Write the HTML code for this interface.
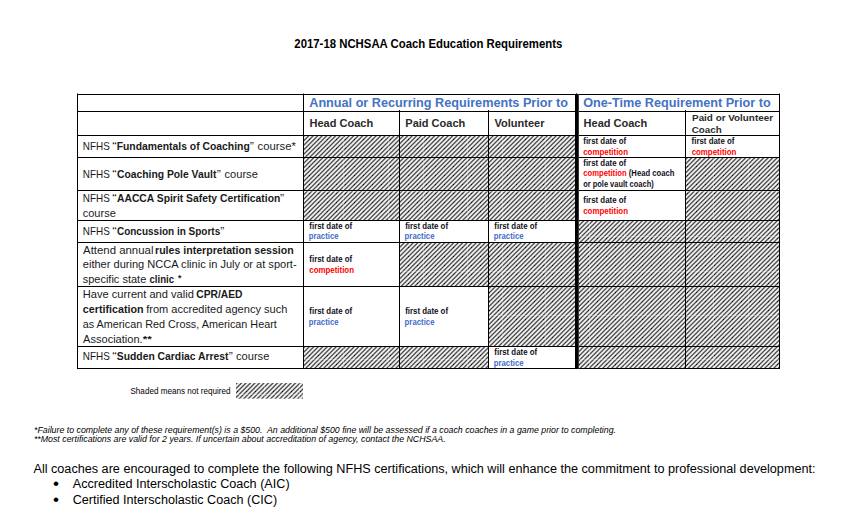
<!DOCTYPE html>
<html lang="en"><head><meta charset="utf-8"><title>2017-18 NCHSAA Coach Education Requirements</title>
<style>
html,body{margin:0;padding:0;background:#fff}
body{width:856px;height:514px;position:relative;overflow:hidden;font-family:"Liberation Sans",sans-serif;}
.l{position:absolute;background:#000}
svg.hs{position:absolute;left:0;top:0}
.t{position:absolute;left:0;white-space:pre;line-height:1;transform-origin:0 0;height:0}
b{font-weight:bold}
i{font-style:italic}
</style></head><body>
<svg class="hs" width="856" height="514" viewBox="0 0 856 514"><defs><pattern id="hp" width="9" height="9" patternUnits="userSpaceOnUse" shape-rendering="crispEdges"><path fill="#0a0a0a" d="M3,4h1v1h-1z"/><path fill="#4c4c4c" d="M7,0h1v1h-1zM6,1h1v1h-1zM5,2h1v1h-1zM4,3h1v1h-1zM2,5h1v1h-1zM1,6h1v1h-1zM0,7h1v1h-1zM8,8h1v1h-1z"/><path fill="#666666" d="M2,0h1v1h-1zM3,0h1v1h-1zM1,1h1v1h-1zM2,1h1v1h-1zM0,2h1v1h-1zM1,2h1v1h-1zM0,3h1v1h-1zM8,3h1v1h-1zM7,4h1v1h-1zM8,4h1v1h-1zM6,5h1v1h-1zM7,5h1v1h-1zM5,6h1v1h-1zM6,6h1v1h-1zM4,7h1v1h-1zM5,7h1v1h-1zM3,8h1v1h-1zM4,8h1v1h-1z"/><path fill="#a6a6a6" d="M6,0h1v1h-1zM8,0h1v1h-1zM5,1h1v1h-1zM7,1h1v1h-1zM4,2h1v1h-1zM6,2h1v1h-1zM3,3h1v1h-1zM5,3h1v1h-1zM2,4h1v1h-1zM4,4h1v1h-1zM1,5h1v1h-1zM3,5h1v1h-1zM0,6h1v1h-1zM2,6h1v1h-1zM1,7h1v1h-1zM8,7h1v1h-1zM0,8h1v1h-1zM7,8h1v1h-1z"/><path fill="#dedede" d="M1,0h1v1h-1zM4,0h1v1h-1zM0,1h1v1h-1zM3,1h1v1h-1zM2,2h1v1h-1zM8,2h1v1h-1zM1,3h1v1h-1zM7,3h1v1h-1zM0,4h1v1h-1zM6,4h1v1h-1zM5,5h1v1h-1zM8,5h1v1h-1zM4,6h1v1h-1zM7,6h1v1h-1zM3,7h1v1h-1zM6,7h1v1h-1zM2,8h1v1h-1zM5,8h1v1h-1z"/><path fill="#f2f2f2" d="M0,0h1v1h-1zM5,0h1v1h-1zM4,1h1v1h-1zM8,1h1v1h-1zM3,2h1v1h-1zM7,2h1v1h-1zM2,3h1v1h-1zM6,3h1v1h-1zM1,4h1v1h-1zM5,4h1v1h-1zM0,5h1v1h-1zM4,5h1v1h-1zM3,6h1v1h-1zM8,6h1v1h-1zM2,7h1v1h-1zM7,7h1v1h-1zM1,8h1v1h-1zM6,8h1v1h-1z"/></pattern></defs>
<rect x="304" y="136" width="95" height="21" fill="url(#hp)" shape-rendering="crispEdges"/>
<rect x="400" y="136" width="88" height="21" fill="url(#hp)" shape-rendering="crispEdges"/>
<rect x="489" y="136" width="86" height="21" fill="url(#hp)" shape-rendering="crispEdges"/>
<rect x="304" y="158" width="95" height="32" fill="url(#hp)" shape-rendering="crispEdges"/>
<rect x="400" y="158" width="88" height="32" fill="url(#hp)" shape-rendering="crispEdges"/>
<rect x="489" y="158" width="86" height="32" fill="url(#hp)" shape-rendering="crispEdges"/>
<rect x="686" y="158" width="93" height="32" fill="url(#hp)" shape-rendering="crispEdges"/>
<rect x="304" y="191" width="95" height="29" fill="url(#hp)" shape-rendering="crispEdges"/>
<rect x="400" y="191" width="88" height="29" fill="url(#hp)" shape-rendering="crispEdges"/>
<rect x="489" y="191" width="86" height="29" fill="url(#hp)" shape-rendering="crispEdges"/>
<rect x="686" y="191" width="93" height="29" fill="url(#hp)" shape-rendering="crispEdges"/>
<rect x="579" y="221" width="106" height="21" fill="url(#hp)" shape-rendering="crispEdges"/>
<rect x="686" y="221" width="93" height="21" fill="url(#hp)" shape-rendering="crispEdges"/>
<rect x="400" y="243" width="88" height="43" fill="url(#hp)" shape-rendering="crispEdges"/>
<rect x="489" y="243" width="86" height="43" fill="url(#hp)" shape-rendering="crispEdges"/>
<rect x="579" y="243" width="106" height="43" fill="url(#hp)" shape-rendering="crispEdges"/>
<rect x="686" y="243" width="93" height="43" fill="url(#hp)" shape-rendering="crispEdges"/>
<rect x="489" y="287" width="86" height="59" fill="url(#hp)" shape-rendering="crispEdges"/>
<rect x="579" y="287" width="106" height="59" fill="url(#hp)" shape-rendering="crispEdges"/>
<rect x="686" y="287" width="93" height="59" fill="url(#hp)" shape-rendering="crispEdges"/>
<rect x="304" y="347" width="95" height="21" fill="url(#hp)" shape-rendering="crispEdges"/>
<rect x="400" y="347" width="88" height="21" fill="url(#hp)" shape-rendering="crispEdges"/>
<rect x="579" y="347" width="106" height="21" fill="url(#hp)" shape-rendering="crispEdges"/>
<rect x="686" y="347" width="93" height="21" fill="url(#hp)" shape-rendering="crispEdges"/>
<rect x="236" y="383" width="67" height="15.7" fill="url(#hp)"/>
<clipPath id="hc"><rect x="304" y="136" width="95" height="21"/><rect x="400" y="136" width="88" height="21"/><rect x="489" y="136" width="86" height="21"/><rect x="304" y="158" width="95" height="32"/><rect x="400" y="158" width="88" height="32"/><rect x="489" y="158" width="86" height="32"/><rect x="686" y="158" width="93" height="32"/><rect x="304" y="191" width="95" height="29"/><rect x="400" y="191" width="88" height="29"/><rect x="489" y="191" width="86" height="29"/><rect x="686" y="191" width="93" height="29"/><rect x="579" y="221" width="106" height="21"/><rect x="686" y="221" width="93" height="21"/><rect x="400" y="243" width="88" height="43"/><rect x="489" y="243" width="86" height="43"/><rect x="579" y="243" width="106" height="43"/><rect x="686" y="243" width="93" height="43"/><rect x="489" y="287" width="86" height="59"/><rect x="579" y="287" width="106" height="59"/><rect x="686" y="287" width="93" height="59"/><rect x="304" y="347" width="95" height="21"/><rect x="400" y="347" width="88" height="21"/><rect x="579" y="347" width="106" height="21"/><rect x="686" y="347" width="93" height="21"/><rect x="236" y="383" width="67" height="16"/></clipPath>
<path clip-path="url(#hc)" d="M264.5,130V400M299.5,130V400M343.5,130V400M388.5,130V400M423.5,130V400M467.5,130V400M502.5,130V400M545.5,130V400M589.5,130V400M624.5,130V400M669.5,130V400M713.5,130V400M748.5,130V400M230,191.5H780M230,236.5H780M230,271.5H780M230,315.5H780M230,359.5H780M230,394.5H780" stroke="#fff" stroke-opacity="0.28" stroke-width="1" fill="none" shape-rendering="crispEdges"/>
</svg>
<div class="l" style="left:77px;top:94px;width:703px;height:1px"></div>
<div class="l" style="left:77px;top:111px;width:703px;height:1px"></div>
<div class="l" style="left:77px;top:135px;width:703px;height:1px"></div>
<div class="l" style="left:77px;top:157px;width:703px;height:1px"></div>
<div class="l" style="left:77px;top:190px;width:703px;height:1px"></div>
<div class="l" style="left:77px;top:220px;width:703px;height:1px"></div>
<div class="l" style="left:77px;top:242px;width:703px;height:1px"></div>
<div class="l" style="left:77px;top:286px;width:703px;height:1px"></div>
<div class="l" style="left:77px;top:346px;width:703px;height:1px"></div>
<div class="l" style="left:77px;top:368px;width:703px;height:1px"></div>
<div class="l" style="left:77px;top:94px;width:1px;height:275px"></div>
<div class="l" style="left:779px;top:94px;width:1px;height:275px"></div>
<div class="l" style="left:303px;top:94px;width:1px;height:275px"></div>
<div class="l" style="left:399px;top:110px;width:1px;height:259px"></div>
<div class="l" style="left:488px;top:110px;width:1px;height:259px"></div>
<div class="l" style="left:685px;top:110px;width:1px;height:259px"></div>
<div class="l" style="left:77px;top:93px;width:1px;height:1px;background:#888"></div>
<div class="l" style="left:303px;top:93px;width:1px;height:1px;background:#888"></div>
<div class="l" style="left:779px;top:93px;width:1px;height:1px;background:#888"></div>
<div class="l" style="left:575px;top:94px;width:3px;height:275px"></div>
<div class="l" style="left:578px;top:94px;width:1px;height:275px;background:#3a3a3a"></div>
<div class="l" style="left:576px;top:93px;width:1px;height:1px;background:#555"></div>
<div class="t" style="top:38px;font-size:12.2px;transform:matrix(0.9322,0,0,1,294.35,0)"><span style="color:#000"><b>2017-18 NCHSAA Coach Education Requirements</b></span></div>
<div class="t" style="top:97px;font-size:12.3px;transform:matrix(1.0286,0,0,1,309.25,0)"><span style="color:#4472c4"><b>Annual or Recurring Requirements Prior to</b></span></div>
<div class="t" style="top:97px;font-size:12.3px;transform:matrix(1.0284,0,0,1,583.22,0)"><span style="color:#4472c4"><b>One-Time Requirement Prior to</b></span></div>
<div class="t" style="top:118px;font-size:11px;transform:matrix(1.0000,0,0,1,309.53,0)"><span style="color:#2a2a2a"><b>Head Coach</b></span></div>
<div class="t" style="top:118px;font-size:11px;transform:matrix(1.0000,0,0,1,405.31,0)"><span style="color:#2a2a2a"><b>Paid Coach</b></span></div>
<div class="t" style="top:118px;font-size:11px;transform:matrix(1.0000,0,0,1,494.54,0)"><span style="color:#2a2a2a"><b>Volunteer</b></span></div>
<div class="t" style="top:118px;font-size:11px;transform:matrix(1.0000,0,0,1,583.61,0)"><span style="color:#2a2a2a"><b>Head Coach</b></span></div>
<div class="t" style="top:113px;font-size:9.6px;transform:matrix(1.0281,0,0,1,692.06,0)"><span style="color:#2a2a2a"><b>Paid or Volunteer</b></span></div>
<div class="t" style="top:125px;font-size:9.6px;transform:matrix(1.0200,0,0,1,691.78,0)"><span style="color:#2a2a2a"><b>Coach</b></span></div>
<div class="t" style="top:142px;font-size:10.1px;transform:matrix(0.9805,0,0,1,82.79,0)"><span style="color:#1a1a1a">NFHS</span></div>
<div class="t" style="top:142px;font-size:10.1px;transform:matrix(1.3000,0,0,1,112.17,0)"><span style="color:#1a1a1a">“</span></div>
<div class="t" style="top:142px;font-size:10.1px;transform:matrix(1.0275,0,0,1,116.65,0)"><span style="color:#1a1a1a"><b>Fundamentals of Coaching</b></span></div>
<div class="t" style="top:142px;font-size:10.1px;transform:matrix(1.2000,0,0,1,249.87,0)"><span style="color:#1a1a1a">”</span></div>
<div class="t" style="top:142px;font-size:10.1px;transform:matrix(1.1186,0,0,1,257.53,0)"><span style="color:#1a1a1a">course*</span></div>
<div class="t" style="top:170px;font-size:10.1px;transform:matrix(0.9805,0,0,1,82.79,0)"><span style="color:#1a1a1a">NFHS</span></div>
<div class="t" style="top:170px;font-size:10.1px;transform:matrix(1.3000,0,0,1,112.17,0)"><span style="color:#1a1a1a">“</span></div>
<div class="t" style="top:170px;font-size:10.1px;transform:matrix(1.0246,0,0,1,116.92,0)"><span style="color:#1a1a1a"><b>Coaching Pole Vault</b></span></div>
<div class="t" style="top:170px;font-size:10.1px;transform:matrix(1.2000,0,0,1,216.87,0)"><span style="color:#1a1a1a">”</span></div>
<div class="t" style="top:170px;font-size:10.1px;transform:matrix(1.0976,0,0,1,224.54,0)"><span style="color:#1a1a1a">course</span></div>
<div class="t" style="top:194px;font-size:10.1px;transform:matrix(0.9805,0,0,1,82.79,0)"><span style="color:#1a1a1a">NFHS</span></div>
<div class="t" style="top:194px;font-size:10.1px;transform:matrix(1.3000,0,0,1,112.17,0)"><span style="color:#1a1a1a">“</span></div>
<div class="t" style="top:194px;font-size:10.1px;transform:matrix(1.0245,0,0,1,116.94,0)"><span style="color:#1a1a1a"><b>AACCA Spirit Safety Certification</b></span></div>
<div class="t" style="top:194px;font-size:10.1px;transform:matrix(1.2000,0,0,1,279.93,0)"><span style="color:#1a1a1a">”</span></div>
<div class="t" style="top:209px;font-size:10.1px;transform:matrix(1.0920,0,0,1,82.73,0)"><span style="color:#1a1a1a">course</span></div>
<div class="t" style="top:227px;font-size:10.1px;transform:matrix(0.9805,0,0,1,82.79,0)"><span style="color:#1a1a1a">NFHS</span></div>
<div class="t" style="top:227px;font-size:10.1px;transform:matrix(1.3000,0,0,1,112.17,0)"><span style="color:#1a1a1a">“</span></div>
<div class="t" style="top:227px;font-size:10.1px;transform:matrix(0.9902,0,0,1,116.94,0)"><span style="color:#1a1a1a"><b>Concussion in Sports</b></span></div>
<div class="t" style="top:227px;font-size:10.1px;transform:matrix(1.2000,0,0,1,220.25,0)"><span style="color:#1a1a1a">”</span></div>
<div class="t" style="top:246px;font-size:10.1px;transform:matrix(1.1296,0,0,1,83.06,0)"><span style="color:#1a1a1a">Attend annual</span></div>
<div class="t" style="top:246px;font-size:10.1px;transform:matrix(1.0476,0,0,1,155.05,0)"><span style="color:#1a1a1a"><b>rules interpretation session</b></span></div>
<div class="t" style="top:260px;font-size:10.1px;transform:matrix(1.0954,0,0,1,82.78,0)"><span style="color:#1a1a1a">either during NCCA clinic in July or at sport-</span></div>
<div class="t" style="top:275px;font-size:10.1px;transform:matrix(1.0898,0,0,1,82.67,0)"><span style="color:#1a1a1a">specific state</span></div>
<div class="t" style="top:275px;font-size:10.1px;transform:matrix(0.9523,0,0,1,149.51,0)"><span style="color:#1a1a1a"><b>clinic</b></span></div>
<div class="t" style="top:274px;font-size:8.6px;transform:matrix(1.0000,0,0,1,178.06,0)"><span style="color:#1a1a1a"><b>*</b></span></div>
<div class="t" style="top:290px;font-size:10.1px;transform:matrix(1.1000,0,0,1,82.78,0)"><span style="color:#1a1a1a">Have current and valid</span></div>
<div class="t" style="top:290px;font-size:10.1px;transform:matrix(1.0173,0,0,1,196.25,0)"><span style="color:#1a1a1a"><b>CPR/AED</b></span></div>
<div class="t" style="top:305px;font-size:10.1px;transform:matrix(1.0615,0,0,1,82.82,0)"><span style="color:#1a1a1a"><b>certification</b></span></div>
<div class="t" style="top:305px;font-size:10.1px;transform:matrix(1.0937,0,0,1,146.19,0)"><span style="color:#1a1a1a">from accredited agency such</span></div>
<div class="t" style="top:320px;font-size:10.1px;transform:matrix(1.0708,0,0,1,82.73,0)"><span style="color:#1a1a1a">as American Red Cross, American Heart</span></div>
<div class="t" style="top:335px;font-size:10.1px;transform:matrix(1.0949,0,0,1,83.06,0)"><span style="color:#1a1a1a">Association.</span></div>
<div class="t" style="top:335px;font-size:8.6px;transform:matrix(1.3500,0,0,1,142.76,0)"><span style="color:#1a1a1a"><b>**</b></span></div>
<div class="t" style="top:352px;font-size:10.1px;transform:matrix(0.9805,0,0,1,82.79,0)"><span style="color:#1a1a1a">NFHS</span></div>
<div class="t" style="top:352px;font-size:10.1px;transform:matrix(1.3000,0,0,1,112.17,0)"><span style="color:#1a1a1a">“</span></div>
<div class="t" style="top:352px;font-size:10.1px;transform:matrix(1.0240,0,0,1,116.82,0)"><span style="color:#1a1a1a"><b>Sudden Cardiac Arrest</b></span></div>
<div class="t" style="top:352px;font-size:10.1px;transform:matrix(1.2000,0,0,1,228.65,0)"><span style="color:#1a1a1a">”</span></div>
<div class="t" style="top:352px;font-size:10.1px;transform:matrix(1.1016,0,0,1,235.97,0)"><span style="color:#1a1a1a">course</span></div>
<div class="t" style="top:138px;font-size:8.2px;transform:matrix(0.9597,0,0,1,583.32,0)"><span style="color:#101018"><b>first date of</b></span></div>
<div class="t" style="top:149px;font-size:8.2px;transform:matrix(0.9648,0,0,1,583.23,0)"><span style="color:#ff0000"><b>competition</b></span></div>
<div class="t" style="top:138px;font-size:8.2px;transform:matrix(0.9601,0,0,1,691.61,0)"><span style="color:#101018"><b>first date of</b></span></div>
<div class="t" style="top:149px;font-size:8.2px;transform:matrix(0.9628,0,0,1,691.66,0)"><span style="color:#ff0000"><b>competition</b></span></div>
<div class="t" style="top:160px;font-size:8.2px;transform:matrix(0.9597,0,0,1,583.32,0)"><span style="color:#101018"><b>first date of</b></span></div>
<div class="t" style="top:170px;font-size:8.2px;transform:matrix(0.9360,0,0,1,583.23,0)"><span style="color:#ff0000"><b>competition</b></span><span style="color:#101018"><b> (Head coach</b></span></div>
<div class="t" style="top:181px;font-size:8.2px;transform:matrix(0.9121,0,0,1,583.15,0)"><span style="color:#101018"><b>or pole vault coach)</b></span></div>
<div class="t" style="top:197px;font-size:8.2px;transform:matrix(0.9597,0,0,1,583.32,0)"><span style="color:#101018"><b>first date of</b></span></div>
<div class="t" style="top:208px;font-size:8.2px;transform:matrix(0.9648,0,0,1,583.23,0)"><span style="color:#ff0000"><b>competition</b></span></div>
<div class="t" style="top:223px;font-size:8.2px;transform:matrix(0.9594,0,0,1,309.35,0)"><span style="color:#101018"><b>first date of</b></span></div>
<div class="t" style="top:233px;font-size:8.2px;transform:matrix(0.9477,0,0,1,308.78,0)"><span style="color:#3f6cc8"><b>practice</b></span></div>
<div class="t" style="top:223px;font-size:8.2px;transform:matrix(0.9606,0,0,1,405.19,0)"><span style="color:#101018"><b>first date of</b></span></div>
<div class="t" style="top:233px;font-size:8.2px;transform:matrix(0.9512,0,0,1,404.59,0)"><span style="color:#3f6cc8"><b>practice</b></span></div>
<div class="t" style="top:223px;font-size:8.2px;transform:matrix(0.9594,0,0,1,494.35,0)"><span style="color:#101018"><b>first date of</b></span></div>
<div class="t" style="top:233px;font-size:8.2px;transform:matrix(0.9477,0,0,1,493.78,0)"><span style="color:#3f6cc8"><b>practice</b></span></div>
<div class="t" style="top:256px;font-size:8.2px;transform:matrix(0.9594,0,0,1,309.35,0)"><span style="color:#101018"><b>first date of</b></span></div>
<div class="t" style="top:267px;font-size:8.2px;transform:matrix(0.9651,0,0,1,309.24,0)"><span style="color:#ff0000"><b>competition</b></span></div>
<div class="t" style="top:308px;font-size:8.2px;transform:matrix(0.9594,0,0,1,309.35,0)"><span style="color:#101018"><b>first date of</b></span></div>
<div class="t" style="top:319px;font-size:8.2px;transform:matrix(0.9477,0,0,1,308.78,0)"><span style="color:#3f6cc8"><b>practice</b></span></div>
<div class="t" style="top:308px;font-size:8.2px;transform:matrix(0.9606,0,0,1,405.19,0)"><span style="color:#101018"><b>first date of</b></span></div>
<div class="t" style="top:319px;font-size:8.2px;transform:matrix(0.9512,0,0,1,404.59,0)"><span style="color:#3f6cc8"><b>practice</b></span></div>
<div class="t" style="top:349px;font-size:8.2px;transform:matrix(0.9594,0,0,1,494.35,0)"><span style="color:#101018"><b>first date of</b></span></div>
<div class="t" style="top:360px;font-size:8.2px;transform:matrix(0.9477,0,0,1,493.78,0)"><span style="color:#3f6cc8"><b>practice</b></span></div>
<div class="t" style="top:388px;font-size:8.2px;transform:matrix(0.9909,0,0,1,130.44,0)"><span style="color:#000">Shaded means not required</span></div>
<div class="t" style="top:427px;font-size:8.2px;transform:matrix(1.0724,0,0,1,34.04,0)"><span style="color:#000"><i>*Failure to complete any of these requirement(s) is a $500.  An additional $500 fine will be assessed if a coach coaches in a game prior to completing.</i></span></div>
<div class="t" style="top:436px;font-size:8.2px;transform:matrix(1.0749,0,0,1,33.89,0)"><span style="color:#000"><i>**Most certifications are valid for 2 years. If uncertain about accreditation of agency, contact the NCHSAA.</i></span></div>
<div class="t" style="top:463px;font-size:12.3px;transform:matrix(1.0280,0,0,1,33.46,0)"><span style="color:#000">All coaches are encouraged to complete the following NFHS certifications, which will enhance the commitment to professional development:</span></div>
<div class="t" style="top:475px;font-size:17px;transform:matrix(1.0000,0,0,1,53.09,0)"><span style="color:#000">•</span></div>
<div class="t" style="top:478px;font-size:12.3px;transform:matrix(1.0266,0,0,1,72.80,0)"><span style="color:#000">Accredited Interscholastic Coach (AIC)</span></div>
<div class="t" style="top:491px;font-size:17px;transform:matrix(1.0000,0,0,1,53.09,0)"><span style="color:#000">•</span></div>
<div class="t" style="top:494px;font-size:12.3px;transform:matrix(1.0243,0,0,1,72.68,0)"><span style="color:#000">Certified Interscholastic Coach (CIC)</span></div>
</body></html>
